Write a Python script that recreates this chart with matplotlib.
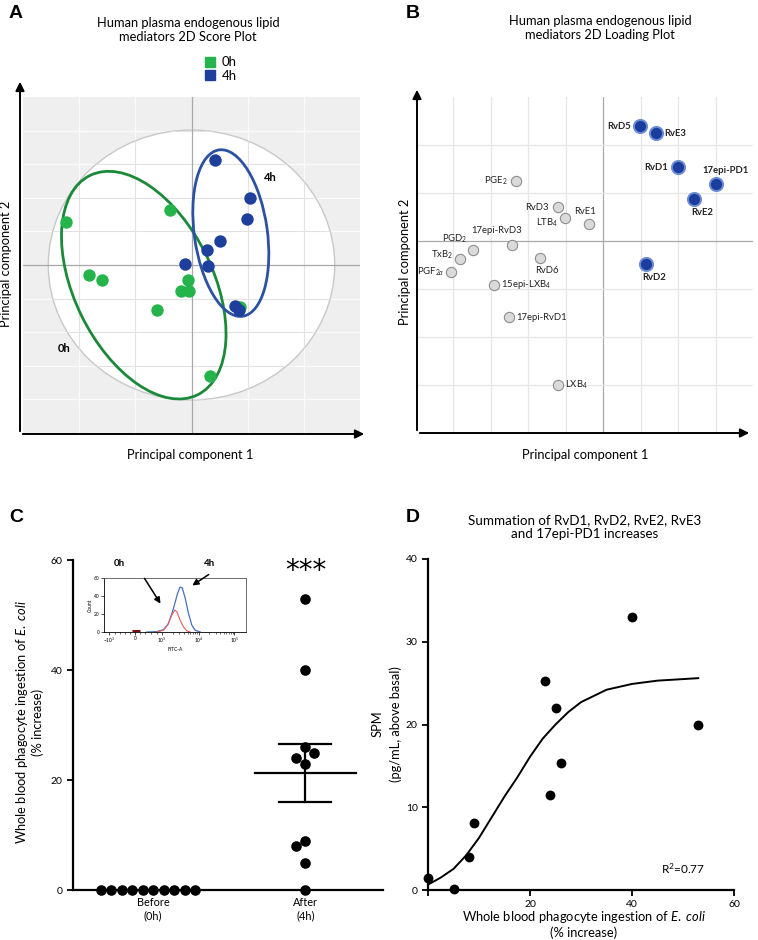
import numpy as np
import matplotlib
matplotlib.use('Agg')
import matplotlib.pyplot as plt
from matplotlib.patches import Ellipse, FancyArrowPatch
from matplotlib.lines import Line2D

plt.rcParams['font.family'] = ['Lato', 'DejaVu Sans']
plt.rcParams['mathtext.fontset'] = 'custom'
plt.rcParams['mathtext.rm'] = 'Lato'
plt.rcParams['mathtext.it'] = 'Lato:italic'
plt.rcParams['mathtext.bf'] = 'Lato:bold'

# ---- data ----
# A: PCA scores
score_0h_t1 = [-2.24, -0.39, -1.83, -1.59, -0.07, -0.18, -0.05, -0.62, 0.33, 0.87]
score_0h_t2 = [0.77, 0.99, -0.17, -0.26, -0.26, -0.46, -0.46, -0.80, -1.99, -0.75]
score_4h_t1 = [0.42, 1.04, 0.99, 0.51, 0.28, -0.11, 0.30, 0.78, 0.85]
score_4h_t2 = [1.88, 1.19, 0.83, 0.42, 0.26, 0.01, -0.01, -0.74, -0.81]

# B: PCA loadings
loading_names = ['RvD5', 'RvE3', 'RvD1', '17epi-PD1', 'RvE2', 'RvD2',
                 'PGE$_2$', 'RvD3', 'LTB$_4$', 'RvE1', '17epi-RvD3', 'PGD$_2$',
                 'TxB$_2$', r'PGF$_{2\alpha}$', 'RvD6', '15epi-LXB$_4$', '17epi-RvD1', 'LXB$_4$']
loading_p1 = [0.99, 1.42, 1.99, 3.02, 2.43, 1.14,
              -2.33, -1.20, -1.02, -0.37, -2.44, -3.47, -3.82, -4.05, -1.68, -2.91, -2.51, -1.20]
loading_p2 = [2.39, 2.24, 1.54, 1.18, 0.88, -0.48,
              1.26, 0.70, 0.47, 0.35, -0.09, -0.19, -0.38, -0.65, -0.35, -0.91, -1.59, -3.00]
loading_up = [True] * 6 + [False] * 12

# C: phagocytosis
before_vals = [0, 0, 0, 0, 0, 0, 0, 0, 0, 0]
after_vals = [53, 40, 26, 23, 24, 25, 9, 8, 5, 0]

# C inset: flow histogram (x in % of axis width)
hist_4h_x = [30.1, 37.2, 41.9, 45.4, 48.9, 51.8, 53.6, 55.1, 57.2, 59.5, 61.9, 64.2, 67.8]
hist_4h_y = [0, 0.4, 2.6, 9.4, 26, 43, 49.9, 49, 37.5, 20.6, 7.5, 1.9, 0]
hist_0h_x = [37.2, 41.9, 44.7, 47.8, 49.9, 51.3, 53.6, 56.0, 58.4, 60.7]
hist_0h_y = [0, 1.9, 7.5, 18.8, 24.4, 22.5, 13.1, 5.6, 1.1, 0]
hist_ticks = [3.8, 21.9, 40.7, 66.6, 91.8]
hist_ticklabels = ['$-10^3$', '0', '$10^3$', '$10^4$', '$10^5$']

# D: correlation
d_x = [0, 5, 8, 9, 23, 25, 24, 26, 40, 53]
d_y = [1.5, 0.1, 4.0, 8.1, 25.3, 22.0, 11.5, 15.3, 33.0, 20.0]
fit_x = [0, 2.5, 5, 7.5, 10, 12.5, 15, 17.5, 20, 22.5, 25, 27.5, 30, 35, 40, 45, 53]
fit_y = [0.65, 1.5, 2.55, 4.2, 6.3, 8.8, 11.3, 13.6, 16.1, 18.3, 20.0, 21.5, 22.7, 24.2, 24.9, 25.3, 25.6]

W, H = 758, 940
fig = plt.figure(figsize=(W / 100, H / 100), dpi=100)

ECOLI = r'Whole blood phagocyte ingestion of $\mathit{E.}$ $\mathit{coli}$'


def box(x0, y0, x1, y1):
    return [x0 / W, 1 - y1 / H, (x1 - x0) / W, (y1 - y0) / H]


def fp(x, y):
    return (x / W, 1 - y / H)


def arrow(p0, p1):
    fig.add_artist(FancyArrowPatch(fp(*p0), fp(*p1), transform=fig.transFigure,
                                   arrowstyle='-|>', mutation_scale=13, lw=1.4, color='black'))


def panel_letter(x, y, s):
    fig.text(*fp(x, y), s, fontsize=14, fontweight='bold', family='Liberation Sans', va='center', ha='center')


green, green_dark = '#25b34b', '#1a8a3a'
blue, blue_dark = '#1e3f9c', '#2c50a4'

# ---------------- Panel A ----------------
axA = fig.add_axes(box(23, 97, 360, 433))
axA.set_xlim(-3, 3)
axA.set_ylim(-3, 3)
axA.set_facecolor('#efefef')
for s in axA.spines.values():
    s.set_visible(False)
axA.set_xticks([])
axA.set_yticks([])
circ = Ellipse((0, 0), 5.1, 4.82, fc='white', ec='#c8c8c8', lw=1, zorder=1)
axA.add_patch(circ)
for gx in range(-2, 3):
    axA.axvline(gx, color='#fbfbfb', lw=0.9, zorder=0.5)
    if gx != 0:
        ln = axA.axvline(gx, color='#e2e2e2', lw=0.8, zorder=1.5)
        ln.set_clip_path(circ)
for gy in np.arange(-2.4, 2.5, 0.6):
    axA.axhline(gy, color='#fbfbfb', lw=0.9, zorder=0.5)
    if abs(gy) > 0.01:
        ln = axA.axhline(gy, color='#e2e2e2', lw=0.8, zorder=1.5)
        ln.set_clip_path(circ)
axA.axvline(0, color='#a8a8a8', lw=0.9, zorder=1.6)
axA.axhline(0, color='#a8a8a8', lw=0.9, zorder=1.6)

axA.add_patch(Ellipse((-0.85, -0.36), 4.36, 2.47, angle=-64, fill=False, ec=green_dark, lw=2, zorder=2.5))
axA.add_patch(Ellipse((0.70, 0.57), 1.3, 3.0, angle=8, fill=False, ec=blue_dark, lw=2, zorder=2.5))
axA.scatter(score_0h_t1, score_0h_t2, s=80, color=green, zorder=3, lw=0)
axA.scatter(score_4h_t1, score_4h_t2, s=80, color=blue, zorder=3, lw=0)
axA.text(1.40, 1.57, '4h', fontsize=8, fontweight='bold', ha='center', va='center')
axA.text(-2.26, -1.49, '0h', fontsize=8, fontweight='bold', ha='center', va='center')

fig.text(*fp(188, 30), 'Human plasma endogenous lipid\nmediators 2D Score Plot', ha='center', va='center',
         fontsize=9.3, linespacing=1.15)
handles = [Line2D([], [], marker='s', ls='', color=green, markersize=7.5),
           Line2D([], [], marker='s', ls='', color=blue, markersize=7.5)]
fig.legend(handles, ['0h', '4h'], loc='center left', bbox_to_anchor=fp(197, 69), frameon=False,
           fontsize=9.5, handletextpad=0.4, labelspacing=0.1, handlelength=1.0, borderpad=0)
arrow((20, 434), (20, 79))
arrow((20, 434), (367, 434))
fig.text(*fp(6, 264), 'Principal component 2', rotation=90, ha='center', va='center', fontsize=9.3)
fig.text(*fp(190, 455), 'Principal component 1', ha='center', va='center', fontsize=9.3)
panel_letter(16, 13, 'A')

# ---------------- Panel B ----------------
axB = fig.add_axes(box(417, 97, 753, 433))
axB.set_xlim(-4.97, 4.0)
axB.set_ylim(-4, 3)
for s in axB.spines.values():
    s.set_visible(False)
axB.set_xticks([])
axB.set_yticks([])
for gx in range(-4, 4):
    axB.axvline(gx, color='#a8a8a8' if gx == 0 else '#e6e6e6', lw=0.9, zorder=1)
for gy in range(-3, 3):
    axB.axhline(gy, color='#a8a8a8' if gy == 0 else '#e6e6e6', lw=0.9, zorder=1)

label_offsets = {
    'RvD5': ((-7, 0), 'right'), 'RvE3': ((6, 0), 'left'), 'RvD1': ((-7, 0), 'right'),
    '17epi-PD1': ((7, 10), 'center'), 'RvE2': ((6, -10), 'center'), 'RvD2': ((6, -10), 'center'),
    'PGE$_2$': ((-6, 0), 'right'), 'RvD3': ((-7, 0), 'right'), 'LTB$_4$': ((-5, -3), 'right'),
    'RvE1': ((-3, 9), 'center'), '17epi-RvD3': ((-11, 11), 'center'), 'PGD$_2$': ((-13, 8), 'center'),
    'TxB$_2$': ((-5, 3), 'right'), r'PGF$_{2\alpha}$': ((-5, 0), 'right'), 'RvD6': ((5, -9), 'center'),
    '15epi-LXB$_4$': ((5, 0), 'left'), '17epi-RvD1': ((5, 0), 'left'), 'LXB$_4$': ((5, 0), 'left'),
}
for name, p1, p2, up in zip(loading_names, loading_p1, loading_p2, loading_up):
    if up:
        axB.scatter(p1, p2, s=90, color='#1b3d9e', ec='#6f8dd6', lw=1.4, zorder=3)
    else:
        axB.scatter(p1, p2, s=55, color='#dadada', ec='#8e8e8e', lw=0.8, zorder=3)
    off, ha = label_offsets[name]
    axB.annotate(name, (p1, p2), xytext=off, textcoords='offset points', ha=ha, va='center',
                 fontsize=6.8, fontweight='bold' if up else 'normal', color='#222222', zorder=4)

fig.text(*fp(600, 28), 'Human plasma endogenous lipid\nmediators 2D Loading Plot', ha='center', va='center',
         fontsize=9.3, linespacing=1.15)
arrow((417, 433), (417, 87))
arrow((417, 433), (752, 433))
fig.text(*fp(405, 262), 'Principal component 2', rotation=90, ha='center', va='center', fontsize=9.3)
fig.text(*fp(585, 455), 'Principal component 1', ha='center', va='center', fontsize=9.3)
panel_letter(413, 13, 'B')


# ---------------- Panel C ----------------
def swarm(values, px_x, px_y, diam):
    placed, out = [], []
    for v in values:
        y = v * px_y
        blocked = []
        for xo, yo in placed:
            dy = abs(y - yo)
            if dy < diam:
                w = np.sqrt(diam ** 2 - dy ** 2)
                blocked.append((xo - w, xo + w))
        cands = sorted([0.0] + [e for b in blocked for e in b], key=lambda c: (round(abs(c), 6), c))
        for c in cands:
            if all(not (lo + 1e-6 < c < hi - 1e-6) for lo, hi in blocked):
                break
        placed.append((c, y))
        out.append(c / px_x)
    return out


axC = fig.add_axes(box(73, 560, 383, 890))
axC.set_xlim(-0.526, 1.51)
axC.set_ylim(0, 60)
for s in ['top', 'right']:
    axC.spines[s].set_visible(False)
for s in ['left', 'bottom']:
    axC.spines[s].set_linewidth(1.6)
axC.set_yticks([0, 20, 40, 60])
axC.tick_params(axis='y', length=4, width=1.3, labelsize=7.5)
axC.set_xticks([0, 1])
axC.set_xticklabels(['Before\n(0h)', 'After\n(4h)'], fontsize=7.8, linespacing=1.3)
axC.tick_params(axis='x', length=0, pad=5)

px_x, px_y = 310 / 2.036, 330 / 60
for xc, vals in [(0, before_vals), (1, after_vals)]:
    offs = swarm(vals, px_x, px_y, 10.5)
    axC.scatter(np.array(offs) + xc, vals, s=58, color='black', zorder=3, clip_on=False, lw=0)
    m = np.mean(vals)
    sem = np.std(vals, ddof=1) / np.sqrt(len(vals))
    if sem > 0:
        axC.plot([xc - 0.33, xc + 0.33], [m, m], color='black', lw=1.6, zorder=2)
        axC.plot([xc - 0.17, xc + 0.17], [m + sem, m + sem], color='black', lw=1.6, zorder=2)
        axC.plot([xc - 0.17, xc + 0.17], [m - sem, m - sem], color='black', lw=1.6, zorder=2)
        axC.plot([xc, xc], [m - sem, m + sem], color='black', lw=1.6, zorder=2)
axC.text(1, 58.0, '***', ha='center', va='center', fontsize=20, family='DejaVu Sans')
fig.text(*fp(22, 722), ECOLI, rotation=90, ha='center', va='center', fontsize=9.3)
fig.text(*fp(38, 722), '(% increase)', rotation=90, ha='center', va='center', fontsize=9.3)
panel_letter(16, 517, 'C')

# inset
axI = fig.add_axes(box(104, 578, 246, 632))
axI.set_xlim(0, 100)
axI.set_ylim(0, 60)
for s in axI.spines.values():
    s.set_linewidth(0.6)
    s.set_color('#555555')
axI.spines['left'].set_color('black')
axI.spines['bottom'].set_color('black')
axI.plot(hist_4h_x, hist_4h_y, color='#4a6fbf', lw=0.9)
axI.plot(hist_0h_x, hist_0h_y, color='#e8605a', lw=0.8)
axI.plot([19.5, 25.4], [0.6, 0.6], color='#7a1010', lw=2.2, solid_capstyle='butt')
axI.set_yticks([0, 20, 40, 60])
axI.set_xticks(hist_ticks)
axI.set_xticklabels(hist_ticklabels)
minor = []
for k in range(2, 10):
    minor.append(40.7 + np.log10(k) * 25.9)
    minor.append(66.6 + np.log10(k) * 25.2)
minor += [7.5, 11, 14.5, 18, 25.5, 29, 33, 37]
axI.set_xticks(minor, minor=True)
axI.tick_params(axis='both', labelsize=3.5, length=2, width=0.5, pad=1)
axI.tick_params(axis='x', which='minor', length=1.2, width=0.4)
axI.set_ylabel('Count', fontsize=3.5, labelpad=1)
axI.set_xlabel('FITC-A', fontsize=3.5, labelpad=1)
fig.text(*fp(119, 563), '0h', fontsize=7, fontweight='bold', ha='center', va='center')
fig.text(*fp(209, 563), '4h', fontsize=7, fontweight='bold', ha='center', va='center')
fig.add_artist(FancyArrowPatch(fp(143, 576), fp(162, 606), transform=fig.transFigure,
                               arrowstyle='-|>', mutation_scale=9, lw=1.1, color='black'))
fig.add_artist(FancyArrowPatch(fp(211, 573), fp(190, 587), transform=fig.transFigure,
                               arrowstyle='-|>', mutation_scale=9, lw=1.1, color='black'))

# ---------------- Panel D ----------------
axD = fig.add_axes(box(428, 559, 734, 890))
axD.set_xlim(0, 60)
axD.set_ylim(0, 40)
for s in ['top', 'right']:
    axD.spines[s].set_visible(False)
for s in ['left', 'bottom']:
    axD.spines[s].set_linewidth(1.6)
axD.set_xticks([0, 20, 40, 60])
axD.set_xticklabels(['', '20', '40', '60'])
axD.set_yticks([0, 10, 20, 30, 40])
axD.tick_params(length=4, width=1.3, labelsize=7.5)
axD.plot(fit_x, fit_y, color='black', lw=1.4, zorder=2)
axD.scatter(d_x, d_y, s=50, color='black', zorder=3, clip_on=False, lw=0)
axD.text(50, 2.6, 'R$^2$=0.77', ha='center', va='center', fontsize=8.5)
fig.text(*fp(585, 527), 'Summation of RvD1, RvD2, RvE2, RvE3\nand 17epi-PD1 increases', ha='center',
         va='center', fontsize=9.6, linespacing=1.15)
fig.text(*fp(584, 917), ECOLI, ha='center', va='center', fontsize=9.3)
fig.text(*fp(584, 933), '(% increase)', ha='center', va='center', fontsize=9.3)
fig.text(*fp(378, 724), 'SPM', rotation=90, ha='center', va='center', fontsize=9.3)
fig.text(*fp(396, 724), '(pg/mL, above basal)', rotation=90, ha='center', va='center', fontsize=9.3)
panel_letter(413, 518, 'D')

fig.savefig('out.png', dpi=100)
